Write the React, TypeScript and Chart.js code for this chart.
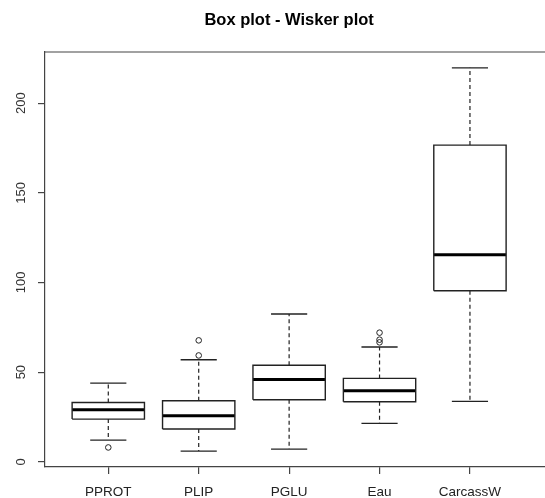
import React, { useEffect, useRef } from "react";
import { Chart, registerables } from "chart.js";

Chart.register(...registerables);

const categories = ["PPROT", "PLIP", "PGLU", "Eau", "CarcassW"];
const lowerWhisker = [12.1, 6.0, 7.1, 21.4, 33.7];
const q1 = [23.8, 18.3, 34.6, 33.5, 95.4];
const median = [29.0, 25.7, 45.9, 39.6, 115.5];
const q3 = [33.1, 34.0, 53.8, 46.5, 176.6];
const upperWhisker = [43.9, 56.9, 82.4, 64.0, 219.7];
const outliers: number[][] = [[8.0], [59.3, 67.7], [], [66.6, 68.1, 72.0], []];
const yTicks = [0, 50, 100, 150, 200];
const titleText = "Box plot - Wisker plot";

const FONT = "'Liberation Sans', Arial, Helvetica, sans-serif";
const LINE = "#222";
const BOX_HALF = 0.4;
const CAP_HALF = 0.2;

function buildDatasets() {
  const ds: any[] = [];
  const base = {
    type: "scatter",
    showLine: true,
    fill: false,
    pointRadius: 0,
    pointHoverRadius: 0,
    borderCapStyle: "butt",
    borderJoinStyle: "miter",
    tension: 0,
  };
  categories.forEach((_, i) => {
    const x = i + 1;
    ds.push({ ...base, data: [{ x, y: q3[i] }, { x, y: upperWhisker[i] }], borderColor: LINE, borderWidth: 1.2, borderDash: [4, 3] });
    ds.push({ ...base, data: [{ x, y: q1[i] }, { x, y: lowerWhisker[i] }], borderColor: LINE, borderWidth: 1.2, borderDash: [4, 3] });
    ds.push({ ...base, data: [{ x: x - CAP_HALF, y: upperWhisker[i] }, { x: x + CAP_HALF, y: upperWhisker[i] }], borderColor: LINE, borderWidth: 1.3 });
    ds.push({ ...base, data: [{ x: x - CAP_HALF, y: lowerWhisker[i] }, { x: x + CAP_HALF, y: lowerWhisker[i] }], borderColor: LINE, borderWidth: 1.3 });
    ds.push({
      ...base,
      data: [
        { x: x - BOX_HALF, y: q1[i] },
        { x: x + BOX_HALF, y: q1[i] },
        { x: x + BOX_HALF, y: q3[i] },
        { x: x - BOX_HALF, y: q3[i] },
        { x: x - BOX_HALF, y: q1[i] },
      ],
      borderColor: LINE,
      borderWidth: 1.4,
    });
    ds.push({ ...base, data: [{ x: x - BOX_HALF, y: median[i] }, { x: x + BOX_HALF, y: median[i] }], borderColor: "#000", borderWidth: 3 });
    if (outliers[i].length) {
      ds.push({
        type: "scatter",
        showLine: false,
        data: outliers[i].map((y) => ({ x, y })),
        pointStyle: "circle",
        pointRadius: 2.8,
        pointHoverRadius: 2.8,
        pointBorderWidth: 1,
        borderColor: LINE,
        backgroundColor: "rgba(0,0,0,0)",
      });
    }
  });
  return ds;
}

const framePlugin = {
  id: "rframe",
  afterDraw(chart: any) {
    const { ctx, chartArea, scales } = chart;
    ctx.save();
    ctx.strokeStyle = "#444";
    ctx.lineWidth = 1.2;
    ctx.beginPath();
    ctx.moveTo(chartArea.left, chartArea.top);
    ctx.lineTo(chartArea.right, chartArea.top);
    ctx.stroke();
    const cx = scales.x.getPixelForValue((categories.length + 1) / 2);
    ctx.fillStyle = "#000";
    ctx.font = `bold 16.5px ${FONT}`;
    ctx.textAlign = "center";
    ctx.textBaseline = "alphabetic";
    ctx.fillText(titleText, cx, 25);
    ctx.restore();
  },
};

export default function App() {
  const ref = useRef<HTMLCanvasElement | null>(null);
  useEffect(() => {
    document.body.style.margin = "0";
    const canvas = ref.current;
    if (!canvas) return;
    const chart = new Chart(canvas, {
      type: "scatter",
      data: { datasets: buildDatasets() },
      plugins: [framePlugin],
      options: {
        animation: false,
        responsive: false,
        devicePixelRatio: 1,
        events: [],
        layout: { autoPadding: false, padding: { top: 52, left: 0, right: 0, bottom: 0 } },
        plugins: {
          legend: { display: false },
          title: { display: false },
          tooltip: { enabled: false },
        },
        scales: {
          x: {
            type: "linear",
            min: 0.3,
            max: 5.83,
            afterBuildTicks: (s: any) => {
              s.ticks = categories.map((_, i) => ({ value: i + 1 }));
            },
            afterFit: (s: any) => {
              s.height = 31;
              s.paddingLeft = 0;
              s.paddingRight = 0;
            },
            ticks: {
              autoSkip: false,
              maxRotation: 0,
              minRotation: 0,
              padding: 10.5,
              color: "#222",
              font: { family: FONT, size: 13.5 },
              callback: (v: any) => categories[Math.round(Number(v)) - 1] ?? "",
            },
            grid: { display: true, drawOnChartArea: false, drawTicks: true, tickLength: 7, color: "#444", lineWidth: 1.2 },
            border: { display: true, color: "#444", width: 1.2 },
          },
          y: {
            type: "linear",
            min: -2.9,
            max: 228.5,
            afterBuildTicks: (s: any) => {
              s.ticks = yTicks.map((v) => ({ value: v }));
            },
            afterFit: (s: any) => {
              s.width = 45;
              s.paddingTop = 0;
              s.paddingBottom = 0;
            },
            ticks: {
              minRotation: 90,
              maxRotation: 90,
              crossAlign: "center",
              padding: 5.5,
              color: "#333",
              font: { family: FONT, size: 13 },
              callback: (v: any) => String(v),
            },
            grid: { display: true, drawOnChartArea: false, drawTicks: true, tickLength: 7, color: "#444", lineWidth: 1.2 },
            border: { display: true, color: "#444", width: 1.2 },
          },
        },
      } as any,
    });
    return () => chart.destroy();
  }, []);
  return (
    <div style={{ width: 545, height: 498 }}>
      <canvas ref={ref} width={545} height={498} style={{ display: "block" }} />
    </div>
  );
}
